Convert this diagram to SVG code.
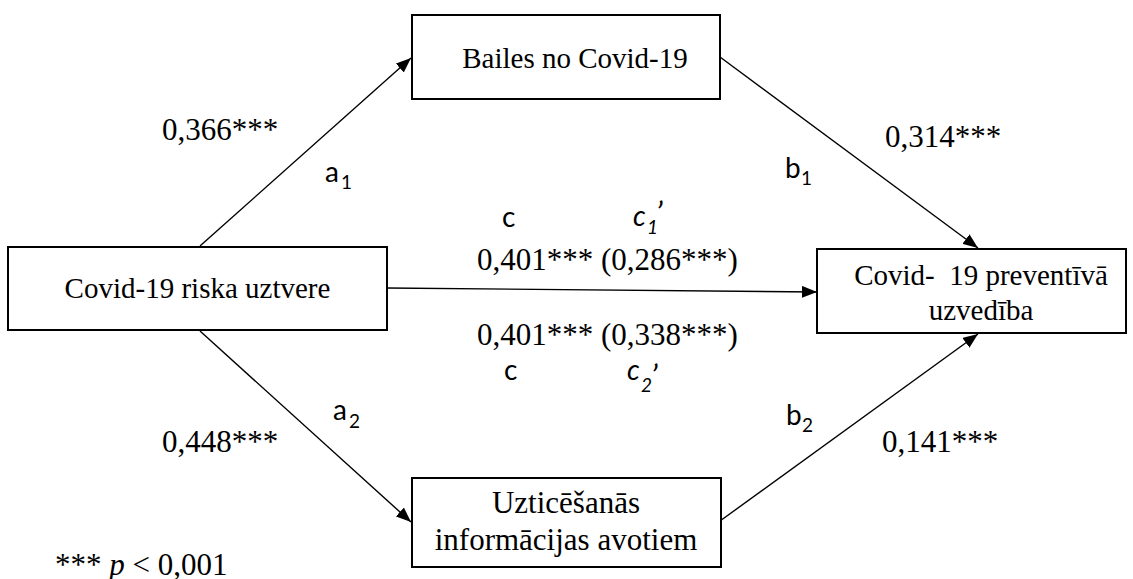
<svg xmlns="http://www.w3.org/2000/svg" width="1133" height="579" viewBox="0 0 1133 579">
<style>
.box{fill:#fff;stroke:#000;stroke-width:2}
.t{font-family:"Liberation Serif","Times New Roman",serif;font-size:29px;fill:#000}
.n{font-family:"Liberation Serif","Times New Roman",serif;font-size:31px;fill:#000}
.s{font-family:Lato,"Liberation Sans",sans-serif;font-size:28px;fill:#000}
.sub{font-family:Lato,"Liberation Sans",sans-serif;font-size:19px;fill:#000}
.pr{font-family:Lato,"Liberation Sans",sans-serif;font-size:32px;font-style:italic;fill:#000}
.i{font-style:italic}
.ln{stroke:#000;stroke-width:1.4;fill:none}
</style>
<defs>
<marker id="ah" markerUnits="userSpaceOnUse" markerWidth="16" markerHeight="12" refX="15" refY="6" orient="auto">
<path d="M0,0 L15,6 L0,12 z" fill="#000"/>
</marker>
</defs>
<rect width="1133" height="579" fill="#fff"/>
<g id="connectors">
<line class="ln" x1="200" y1="246" x2="411" y2="58" marker-end="url(#ah)"/>
<line class="ln" x1="720" y1="57" x2="978" y2="248" marker-end="url(#ah)"/>
<line class="ln" x1="387" y1="288" x2="817" y2="292" marker-end="url(#ah)"/>
<line class="ln" x1="200" y1="331" x2="411" y2="522" marker-end="url(#ah)"/>
<line class="ln" x1="720" y1="521" x2="978" y2="334" marker-end="url(#ah)"/>
</g>
<g id="node-bailes">
<rect class="box" x="412" y="15" width="308" height="84"/>
<text class="t" x="575" y="68" text-anchor="middle">Bailes no Covid-19</text>
</g>
<g id="node-risks">
<rect class="box" x="8" y="247" width="379" height="83"/>
<text class="t" x="197.5" y="298" text-anchor="middle">Covid-19 riska uztvere</text>
</g>
<g id="node-uzvediba">
<rect class="box" x="817" y="249" width="309" height="84"/>
<text class="t" x="981" y="285" text-anchor="middle" xml:space="preserve">Covid-  19 preventīvā</text>
<text class="t" x="981" y="320" text-anchor="middle">uzvedība</text>
</g>
<g id="node-uzticesanas">
<rect class="box" x="412" y="478" width="309" height="89"/>
<text class="n" x="566" y="513" text-anchor="middle">Uzticēšanās</text>
<text class="n" x="566" y="550" text-anchor="middle">informācijas avotiem</text>
</g>
<g id="labels">
<text class="n" x="162" y="140">0,366***</text>
<text class="s" x="325" y="182">a</text><text class="sub" x="341" y="189">1</text>
<text class="s" x="785" y="178">b</text><text class="sub" x="801" y="185">1</text>
<text class="n" x="885" y="147">0,314***</text>
<text class="s" x="502" y="227">c</text>
<text class="s i" x="633" y="226">c</text><text class="sub i" x="647" y="234">1</text><text class="pr" x="656" y="225">’</text>
<text class="n" x="477" y="270">0,401*** (0,286***)</text>
<text class="n" x="477" y="345">0,401*** (0,338***)</text>
<text class="s" x="504" y="380">c</text>
<text class="s i" x="627" y="380">c</text><text class="sub i" x="641" y="392">2</text><text class="pr" x="651" y="388">’</text>
<text class="s" x="333" y="420">a</text><text class="sub" x="349" y="428">2</text>
<text class="n" x="162" y="452">0,448***</text>
<text class="s" x="786" y="425">b</text><text class="sub" x="802" y="432">2</text>
<text class="n" x="882" y="452">0,141***</text>
<text class="n" x="55" y="575">*** <tspan class="i">p</tspan> &lt; 0,001</text>
</g>
</svg>
